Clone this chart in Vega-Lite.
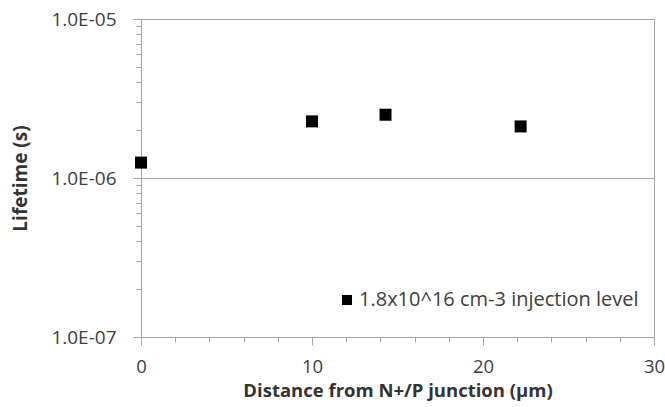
{
  "$schema": "https://vega.github.io/schema/vega-lite/v6.json",
  "autosize": "none",
  "width": 513,
  "height": 318,
  "padding": {"left": 141, "top": 19, "right": 11, "bottom": 70},
  "background": "white",
  "config": {
    "view": {"stroke": "#a6a6a6", "strokeWidth": 1},
    "font": "Open Sans"
  },
  "data": {
    "values": [
      {"distance": 0, "lifetime": 1.25e-6, "series": "1.8x10^16 cm-3 injection level"},
      {"distance": 10, "lifetime": 2.27e-6, "series": "1.8x10^16 cm-3 injection level"},
      {"distance": 14.3, "lifetime": 2.5e-6, "series": "1.8x10^16 cm-3 injection level"},
      {"distance": 22.2, "lifetime": 2.11e-6, "series": "1.8x10^16 cm-3 injection level"}
    ]
  },
  "mark": {"type": "point", "shape": "square", "filled": true, "size": 144, "opacity": 1},
  "encoding": {
    "x": {
      "field": "distance",
      "type": "quantitative",
      "scale": {"domain": [0, 30], "nice": false, "zero": false},
      "axis": {
        "title": "Distance from N+/P junction (µm)",
        "values": [0, 2, 4, 6, 8, 10, 12, 14, 16, 18, 20, 22, 24, 26, 28, 30],
        "labelExpr": "datum.value % 10 == 0 ? datum.label : ''",
        "grid": false,
        "domainColor": "#a6a6a6",
        "tickColor": "#a6a6a6",
        "tickSize": {"condition": {"test": "datum.value % 10 == 0", "value": 8}, "value": 5},
        "labelPadding": 12,
        "labelFontSize": 18.5,
        "labelColor": "#404040",
        "labelFont": "Open Sans",
        "labelFlush": false,
        "titleFont": "Open Sans",
        "titleFontSize": 18.5,
        "titleFontWeight": "bold",
        "titleColor": "#333333",
        "titlePadding": 6
      }
    },
    "y": {
      "field": "lifetime",
      "type": "quantitative",
      "scale": {"type": "log", "domain": [1e-7, 1e-5], "nice": false},
      "axis": {
        "title": "Lifetime (s)",
        "values": [1e-7, 2e-7, 3e-7, 4e-7, 5e-7, 6e-7, 7e-7, 8e-7, 9e-7, 1e-6, 2e-6, 3e-6, 4e-6, 5e-6, 6e-6, 7e-6, 8e-6, 9e-6, 1e-5],
        "labelExpr": "abs(log(datum.value)/LN10 - round(log(datum.value)/LN10)) < 0.01 ? '1.0E-0' + (-round(log(datum.value)/LN10)) : ''",
        "grid": true,
        "gridColor": "#a6a6a6",
        "gridOpacity": {"condition": {"test": "abs(log(datum.value)/LN10 - round(log(datum.value)/LN10)) < 0.01", "value": 1}, "value": 0},
        "domainColor": "#a6a6a6",
        "tickColor": "#a6a6a6",
        "tickSize": {"condition": {"test": "abs(log(datum.value)/LN10 - round(log(datum.value)/LN10)) < 0.01", "value": 8}, "value": 5},
        "labelPadding": 17,
        "labelFontSize": 19,
        "labelColor": "#404040",
        "labelFont": "Open Sans",
        "labelFlush": false,
        "labelOverlap": false,
        "titleFont": "Open Sans",
        "titleFontSize": 19,
        "titleFontWeight": "bold",
        "titleColor": "#333333",
        "titlePadding": 20
      }
    },
    "fill": {
      "field": "series",
      "type": "nominal",
      "scale": {"range": ["#000000"]},
      "legend": {
        "title": null,
        "orient": "none",
        "legendX": 196,
        "legendY": 271,
        "symbolType": "square",
        "symbolSize": 100,
        "symbolFillColor": "#000000",
        "symbolStrokeWidth": 0,
        "labelOffset": 2,
        "labelFontSize": 20,
        "labelFont": "Open Sans",
        "labelColor": "#404040",
        "labelLimit": 400,
        "padding": 0
      }
    }
  }
}
